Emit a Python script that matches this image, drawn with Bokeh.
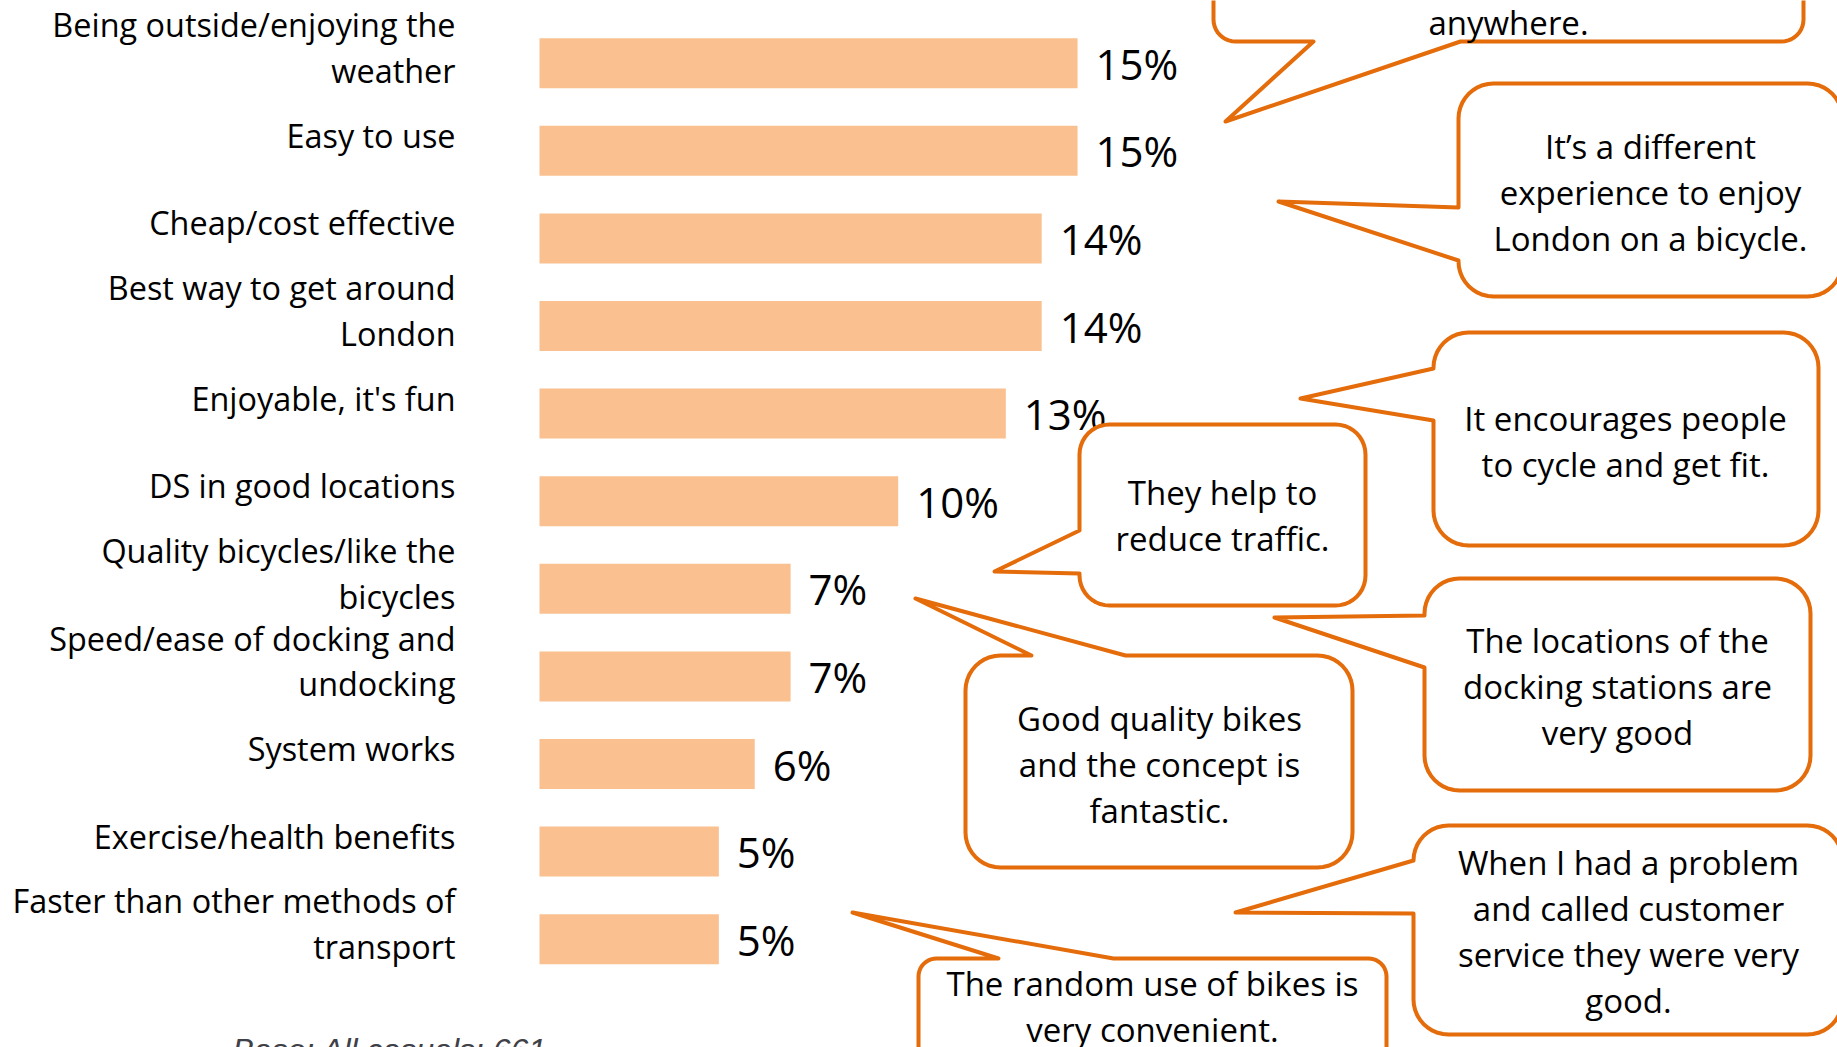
import math
from bokeh.plotting import figure
from bokeh.models import Range1d, ColumnDataSource
from bokeh.core.properties import value
from bokeh.embed import file_html
from bokeh.resources import INLINE

# ---------------- data ----------------
categories = [
    "Being outside/enjoying the\nweather",
    "Easy to use",
    "Cheap/cost effective",
    "Best way to get around\nLondon",
    "Enjoyable, it's fun",
    "DS in good locations",
    "Quality bicycles/like the\nbicycles",
    "Speed/ease of docking and\nundocking",
    "System works",
    "Exercise/health benefits",
    "Faster than other methods of\ntransport",
]
values = [15, 15, 14, 14, 13, 10, 7, 7, 6, 5, 5]
value_labels = [f"{v}%" for v in values]

quotes = [
    "anywhere.",
    "It\u2019s a different\nexperience to enjoy\nLondon on a bicycle.",
    "It encourages people\nto cycle and get fit.",
    "They help to\nreduce traffic.",
    "Good quality bikes\nand the concept is\nfantastic.",
    "The locations of the\ndocking stations are\nvery good",
    "When I had a problem\nand called customer\nservice they were very\ngood.",
    "The random use of bikes is\nvery convenient.",
]
base_note = "Base: All casuals: 661"

# ---------------- layout (screen pixels of the slide) ----------------
OFF = 0
W, H = 1837, 1047
X0, PX_PER_PCT = 539.0, 35.87
ROW0, ROW_H = 62.7, 87.6
BAR_H = 50.0
LABEL_RIGHT = 455
LABEL_SHIFT = 16.0
LINE_H = 1.02

# callout boxes: (left, top, right, bottom, radius, tail side, base a, base b, tip, text centre)
callouts = [
    (1213, -100, 1803, 41, 22, "bottom", 1313, 1460, (1225, 121), (1508, 22)),
    (1458, 83, 1842, 296, 35, "left", 207, 260, (1278, 201), (1650, 192)),
    (1433, 332, 1818, 545, 35, "left", 368, 420, (1300, 398), (1625, 441)),
    (1079, 424, 1365, 605, 30, "left", 530, 573, (994, 571), (1222, 515)),
    (965, 655, 1352, 867, 35, "top", 1031, 1125, (915, 598), (1159, 764)),
    (1424, 578, 1810, 790, 35, "left", 615, 667, (1274, 617), (1617, 686)),
    (1413, 825, 1842, 1034, 35, "left", 860, 913, (1235, 912), (1628, 931)),
    (918, 958, 1386, 1066, 18, "top", 998, 1113, (852, 912), (1152, 1006)),
]

BAR_COLOR = "#FAC090"
LINE_COLOR = "#E46C0A"
FONT = value("Open Sans")

p = figure(
    width=W, height=H,
    x_range=Range1d(OFF, OFF + W),
    y_range=Range1d(OFF + H, OFF),
    output_backend="svg", toolbar_location=None,
    min_border=0, x_axis_location=None, y_axis_location=None,
)
p.grid.visible = False
p.outline_line_color = None
p.background_fill_color = "white"
p.border_fill_color = "white"

p.extra_x_ranges = {"pct": Range1d((OFF - X0) / PX_PER_PCT, (OFF + W - X0) / PX_PER_PCT)}
p.extra_y_ranges = {"row": Range1d((OFF + H - ROW0) / ROW_H, (OFF - ROW0) / ROW_H)}

rows = list(range(len(categories)))
src = ColumnDataSource(dict(
    row=rows,
    val=values,
    cat=categories,
    lab=value_labels,
    label_y=[r - LABEL_SHIFT / ROW_H for r in rows],
    label_x=[LABEL_RIGHT] * len(rows),
))

p.hbar(y="row", left=0, right="val", height=BAR_H / ROW_H, source=src,
       x_range_name="pct", y_range_name="row",
       fill_color=BAR_COLOR, line_color=None)

p.text(x="val", y="row", text="lab", source=src, x_offset=18,
       x_range_name="pct", y_range_name="row",
       text_font=FONT, text_font_size="42px", text_color="black",
       text_baseline="middle", text_align="left")

p.text(x="label_x", y="label_y", text="cat", source=src, y_range_name="row",
       text_font=FONT, text_font_size="32.4px", text_color="black",
       text_baseline="middle", text_align="right", text_line_height=1.04)


def callout_shape(L, T, R, B, r, side, a, b, tip, n=10):
    def arc(cx, cy, t0, t1):
        return [(cx + r * math.cos(t0 + (t1 - t0) * k / n),
                 cy + r * math.sin(t0 + (t1 - t0) * k / n)) for k in range(n + 1)]
    pts = []
    pts += arc(L + r, T + r, math.pi, 1.5 * math.pi)
    if side == "top":
        pts += [(a, T), tip, (b, T)]
    pts += arc(R - r, T + r, 1.5 * math.pi, 2 * math.pi)
    pts += arc(R - r, B - r, 0, 0.5 * math.pi)
    if side == "bottom":
        pts += [(b, B), tip, (a, B)]
    pts += arc(L + r, B - r, 0.5 * math.pi, math.pi)
    if side == "left":
        pts += [(L, b), tip, (L, a)]
    return [q[0] for q in pts], [q[1] for q in pts]


xs, ys, tx, ty = [], [], [], []
for (L, T, R, B, r, side, a, b, tip, centre) in callouts:
    sx, sy = callout_shape(L, T, R, B, r, side, a, b, tip)
    xs.append(sx)
    ys.append(sy)
    tx.append(centre[0])
    ty.append(centre[1])

p.patches(xs, ys, fill_color="white", line_color=LINE_COLOR, line_width=4,
          line_join="round")

p.text(x=tx, y=ty, text=quotes, text_font=FONT, text_font_size="33px",
       text_color="black", text_align="center", text_baseline="middle",
       text_line_height=LINE_H)

p.text(x=[232], y=[1049], text=[base_note], text_font=value("Liberation Sans"),
       text_font_style="italic", text_font_size="32px", text_color="#404048",
       text_baseline="alphabetic", text_align="left")

open("out.html", "w").write(file_html(p, INLINE))
